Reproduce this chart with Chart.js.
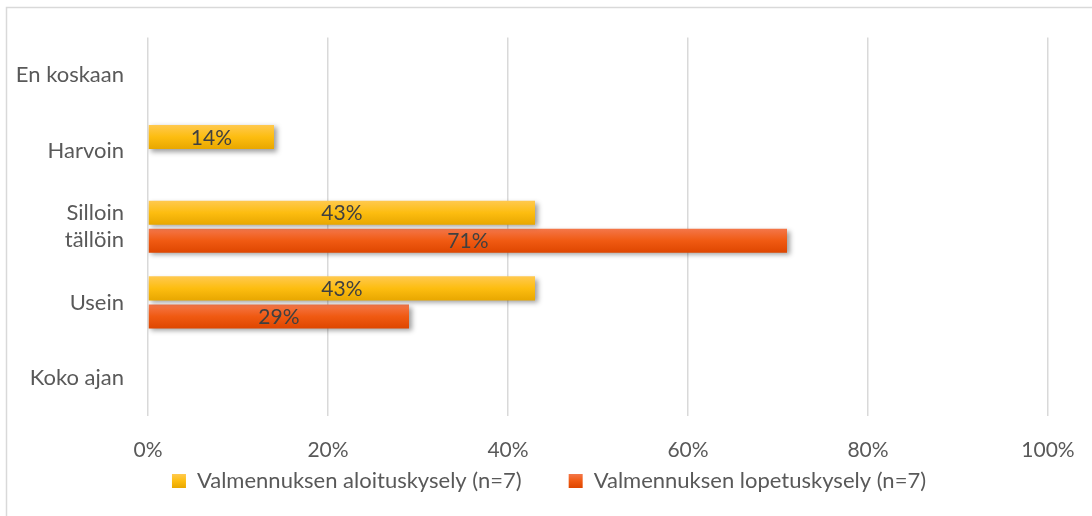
<!DOCTYPE html>
<html>
<head>
<meta charset="utf-8">
<script src="https://cdn.jsdelivr.net/npm/chart.js@4"></script>
<style>
  html, body { margin: 0; padding: 0; background: #fff; overflow: hidden; }
  #wrap { width: 1092px; height: 516px; }
</style>
</head>
<body>
<div id="wrap"><canvas id="barChart"></canvas></div>
<script>
var categories = ['En koskaan', 'Harvoin', ['Silloin', 'tällöin'], 'Usein', 'Koko ajan'];
var seriesNames = ['Valmennuksen aloituskysely (n=7)', 'Valmennuksen lopetuskysely (n=7)'];
var aloitus = [0, 14, 43, 43, 0];
var lopetus = [0, 0, 71, 29, 0];
var xTicks = [0, 20, 40, 60, 80, 100];

var fontName = "Lato, 'Open Sans', sans-serif";
var textGray = '#595959';
var gradStops = [
  ['#ffc94f', '#fdbd10', '#e8a700'],
  ['#f4774a', '#f05a12', '#de4600']
];
var catPct = 0.74, barPct = 0.86;

function vGrad(c, top, bottom, stops) {
  var g = c.createLinearGradient(0, top, 0, bottom);
  g.addColorStop(0, stops[0]);
  g.addColorStop(0.5, stops[1]);
  g.addColorStop(1, stops[2]);
  return g;
}

// gradient per bar, worked out from the category scale
function barFill(ctx) {
  var chart = ctx.chart, y = chart.scales.y;
  if (!y || !chart.chartArea) return gradStops[ctx.datasetIndex][1];
  var band = y.height / categories.length;
  var slot = band * catPct / 2;
  var centre = y.getPixelForValue(ctx.dataIndex) - band * catPct / 2 + slot * (ctx.datasetIndex + 0.5);
  var h = slot * barPct;
  return vGrad(chart.ctx, centre - h / 2, centre + h / 2, gradStops[ctx.datasetIndex]);
}

var framePlugin = {
  id: 'frame',
  afterLayout: function (chart) {
    // legend sits a bit right of centre and close under the tick labels
    var lg = chart.legend;
    if (lg) { lg.left += 25; lg.right += 25; lg.top -= 43; lg.bottom = chart.height; }
  },
  beforeDraw: function (chart) {
    var c = chart.ctx;
    c.save();
    c.fillStyle = '#fff';
    c.fillRect(0, 0, chart.width, chart.height);
    c.strokeStyle = '#d9d9d9';
    c.lineWidth = 1.5;
    c.strokeRect(6.5, 7.5, chart.width + 20, chart.height + 20);
    c.restore();
    // legend boxes get the same gradients as the bars
    var lg = chart.legend;
    if (lg && lg.legendItems && lg.legendHitBoxes) {
      lg.legendItems.forEach(function (item, i) {
        var hb = lg.legendHitBoxes[i];
        if (!hb) return;
        var top = hb.top + (hb.height - 14) / 2;
        item.fillStyle = vGrad(c, top, top + 14, gradStops[item.datasetIndex]);
      });
    }
  },
  beforeDatasetsDraw: function (chart) {
    var c = chart.ctx;
    c.save();
    c.shadowColor = 'rgba(0,0,0,0.38)';
    c.shadowBlur = 5;
    c.shadowOffsetX = 2.5;
    c.shadowOffsetY = 2.5;
  },
  afterDatasetsDraw: function (chart) {
    var c = chart.ctx;
    c.restore();
    c.save();
    c.font = '21px ' + fontName;
    c.fillStyle = '#404040';
    c.textAlign = 'center';
    c.textBaseline = 'middle';
    chart.data.datasets.forEach(function (ds, di) {
      chart.getDatasetMeta(di).data.forEach(function (bar, i) {
        if (!ds.data[i]) return;
        c.fillText(ds.data[i] + '%', (bar.x + bar.base) / 2, bar.y + 1);
      });
    });
    c.restore();
  }
};

new Chart(document.getElementById('barChart').getContext('2d'), {
  type: 'bar',
  data: {
    labels: categories,
    datasets: [
      { label: seriesNames[0], data: aloitus, backgroundColor: barFill, borderWidth: 0,
        categoryPercentage: catPct, barPercentage: barPct },
      { label: seriesNames[1], data: lopetus, backgroundColor: barFill, borderWidth: 0,
        categoryPercentage: catPct, barPercentage: barPct }
    ]
  },
  options: {
    indexAxis: 'y',
    responsive: true,
    maintainAspectRatio: false,
    animation: false,
    layout: { padding: { top: 36, right: 44, left: 0, bottom: 0 } },
    scales: {
      x: {
        min: 0, max: 100,
        afterBuildTicks: function (axis) { axis.ticks = xTicks.map(function (v) { return { value: v }; }); },
        ticks: {
          callback: function (v) { return v + '%'; },
          color: textGray, font: { family: fontName, size: 21 }, padding: 22
        },
        grid: { color: '#d9d9d9', lineWidth: 1.5, drawTicks: false },
        border: { display: false },
        afterFit: function (axis) {
          axis.height = 50;
          axis.paddingLeft = 0;
          axis.paddingRight = 0;
        }
      },
      y: {
        ticks: { color: textGray, font: { family: fontName, size: 22, lineHeight: 1.22 }, padding: 24 },
        grid: { display: false, drawTicks: false },
        border: { display: false },
        afterFit: function (axis) { axis.width = 148; }
      }
    },
    plugins: {
      legend: {
        position: 'bottom',
        maxHeight: 50,
        labels: {
          boxWidth: 14, boxHeight: 14, padding: 47,
          color: textGray, font: { family: fontName, size: 22 }
        }
      },
      tooltip: { enabled: false }
    }
  },
  plugins: [framePlugin]
});
</script>
</body>
</html>
